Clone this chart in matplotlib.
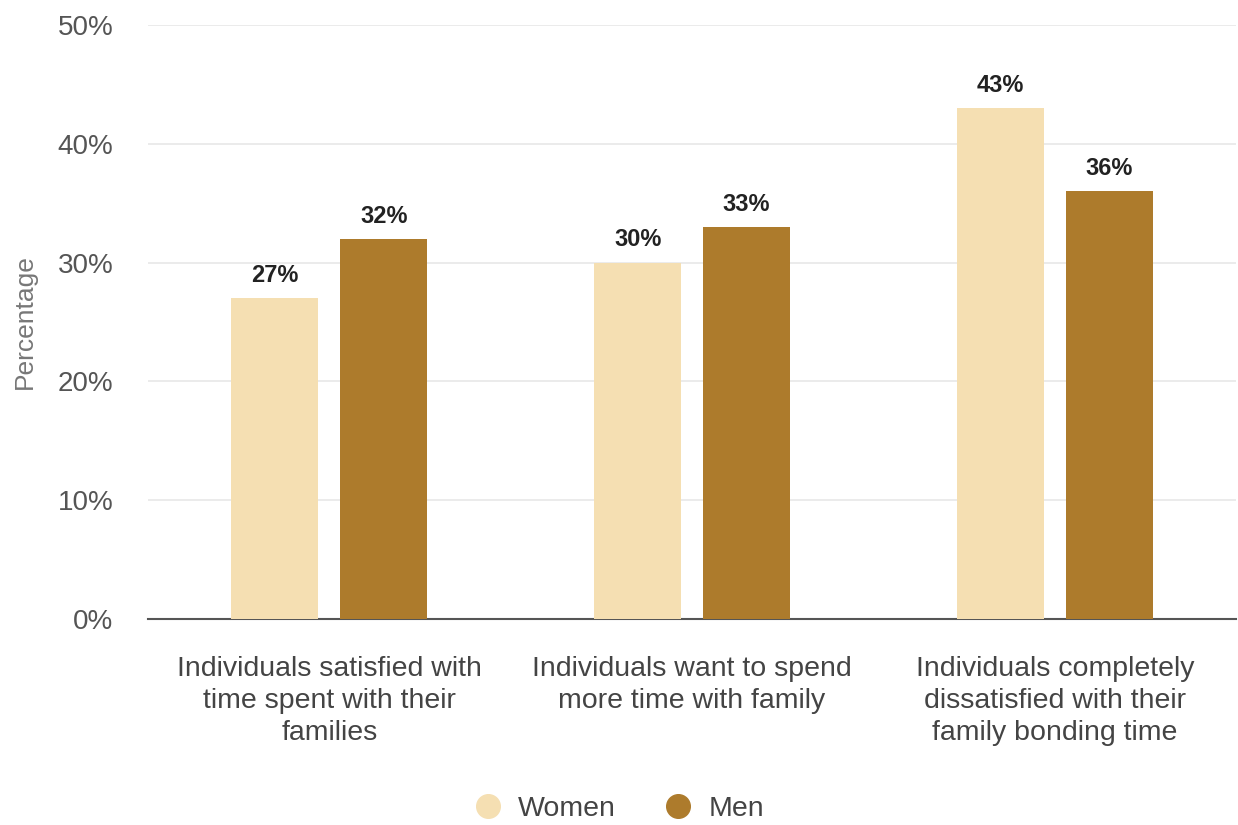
import numpy as np
import matplotlib.pyplot as plt
from matplotlib.lines import Line2D

categories = ["Individuals satisfied with\ntime spent with their\nfamilies",
              "Individuals want to spend\nmore time with family",
              "Individuals completely\ndissatisfied with their\nfamily bonding time"]
women = [27, 30, 43]
men = [32, 33, 36]
series = ["Women", "Men"]
colors = ["#F5DFB2", "#AD7B2C"]

plt.rcParams['font.family'] = ['Liberation Sans', 'DejaVu Sans']

fig = plt.figure(figsize=(12.38, 8.25), dpi=100)
ax = fig.add_axes([0.1195, 0.2497, 0.879, 0.72])

x = np.arange(len(categories))
w = 0.24
for vals, off, c in [(women, -0.15, colors[0]), (men, 0.15, colors[1])]:
    bars = ax.bar(x + off, vals, width=w, color=c, zorder=3)
    for b, v in zip(bars, vals):
        ax.text(b.get_x() + b.get_width() / 2, v + 0.95, f"{v}%", ha='center', va='bottom',
                fontsize=17, fontweight='bold', color='#222222')

ax.set_xlim(-0.5, 2.5)
ax.set_ylim(0, 50)
ax.set_yticks(range(0, 51, 10))
ax.set_yticklabels([f"{t}%" for t in range(0, 51, 10)], fontsize=20, color='#555555')
ax.set_xticks(x)
ax.set_xticklabels(categories, fontsize=20.5, color='#444444', linespacing=1.3)
ax.tick_params(axis='both', length=0)
ax.tick_params(axis='y', pad=25)
ax.tick_params(axis='x', pad=27)
ax.grid(axis='y', color='#e8e8e8', linewidth=1.2, zorder=0)
for s in ['top', 'right', 'left']:
    ax.spines[s].set_visible(False)
ax.spines['bottom'].set_color('#555555')
ax.spines['bottom'].set_linewidth(1.5)
ax.set_ylabel("Percentage", fontsize=19, color='#777777', labelpad=0)
ax.yaxis.set_label_coords(-0.102, 0.5)

handles = [Line2D([], [], marker='o', linestyle='', markersize=17, color=c) for c in colors]
fig.legend(handles, series, loc='center', bbox_to_anchor=(0.494, 0.02), ncol=2, frameon=False,
           fontsize=20.5, handletextpad=0.05, columnspacing=1.2, labelcolor='#444444')

fig.savefig("out.png", dpi=100)
